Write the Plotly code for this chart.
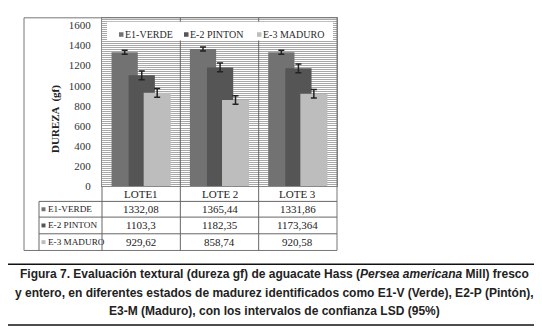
import plotly.graph_objects as go

categories = ["LOTE1", "LOTE 2", "LOTE 3"]
series_names = ["E1-VERDE", "E-2 PINTON", "E-3 MADURO"]
e1_verde = [1332.08, 1365.44, 1331.86]
e2_pinton = [1103.3, 1182.35, 1173.364]
e3_maduro = [929.62, 858.74, 920.58]
e1_err = [20, 20, 20]
e2_err = [43, 43, 43]
e3_err = [43, 43, 43]
y_ticks = [0, 200, 400, 600, 800, 1000, 1200, 1400, 1600]

W, H = 542, 328
colors = ["#727272", "#555555", "#bdbdbd"]
offsets = [-0.378, -0.16, 0.032]
widths = [0.335, 0.335, 0.345]

def px(x):
    return x / W

def py(y):
    return 1 - y / H

fig = go.Figure()
vals = [e1_verde, e2_pinton, e3_maduro]
errs = [e1_err, e2_err, e3_err]
for i in range(3):
    fig.add_trace(go.Bar(
        x=list(range(3)), y=vals[i], name=series_names[i],
        marker=dict(color=colors[i], line=dict(width=0)),
        offset=offsets[i], width=widths[i],
        error_y=dict(type="data", array=errs[i], color="#222", thickness=1.5, width=3),
        showlegend=False,
    ))

serif = "Liberation Serif"
plot_left, plot_right, plot_top, plot_bottom = 94, 329, 10, 181.7

fig.update_layout(
    width=W, height=H, margin=dict(l=0, r=0, t=0, b=0),
    paper_bgcolor="white", plot_bgcolor="white",
    barmode="overlay", showlegend=False,
    xaxis=dict(domain=[px(plot_left), px(plot_right)], range=[-0.5, 2.5],
               showticklabels=False, showgrid=False, zeroline=False,
               showline=True, linecolor="#888", mirror=True, ticks=""),
    yaxis=dict(domain=[py(plot_bottom), py(plot_top)], range=[0, 1675],
               tickvals=y_ticks, ticktext=[str(v) for v in y_ticks],
               tickfont=dict(family=serif, size=11, color="#333"),
               showgrid=True, gridcolor="#a8a8a8", gridwidth=1,
               minor=dict(dtick=20, showgrid=True, gridcolor="#a8a8a8", gridwidth=1),
               zeroline=False, showline=True, linecolor="#888", mirror=True,
               ticks="", ticklabelstandoff=8),
)

shapes = []
line_c = "#777"
# outer frame
shapes.append(dict(type="rect", xref="paper", yref="paper", x0=px(16), x1=px(329),
                   y0=py(247), y1=py(10), line=dict(color=line_c, width=1)))
# category separators through plot and table
for xs in [0.5, 1.5]:
    shapes.append(dict(type="line", xref="x", yref="paper", x0=xs, x1=xs,
                       y0=py(247), y1=py(plot_top), line=dict(color="#666", width=1)))
# legend box (white) and squares
shapes.append(dict(type="rect", xref="paper", yref="paper", x0=px(99), x1=px(325),
                   y0=py(33), y1=py(14), fillcolor="white", line=dict(width=0), layer="above"))
leg_sq_x = [111, 176, 249]
leg_tx_x = [114.5, 179.5, 252.5]
for i in range(3):
    shapes.append(dict(type="rect", xref="paper", yref="paper", x0=px(leg_sq_x[i]),
                       x1=px(leg_sq_x[i] + 4.5), y0=py(29.3), y1=py(24.7),
                       fillcolor=colors[i], line=dict(width=0), layer="above"))
# table lines
table_rows = [197, 213, 230]
for yy in table_rows:
    shapes.append(dict(type="line", xref="paper", yref="paper", x0=px(31), x1=px(329),
                       y0=py(yy), y1=py(yy), line=dict(color="#666", width=1)))
shapes.append(dict(type="line", xref="paper", yref="paper", x0=px(31), x1=px(31),
                   y0=py(197), y1=py(247), line=dict(color="#666", width=1)))
shapes.append(dict(type="line", xref="paper", yref="paper", x0=px(94), x1=px(94),
                   y0=py(181.7), y1=py(247), line=dict(color="#666", width=1)))
# table row squares
row_centers = [205, 221.5, 238.5]
for r in range(3):
    shapes.append(dict(type="rect", xref="paper", yref="paper", x0=px(33.5), x1=px(37.5),
                       y0=py(row_centers[r] + 2), y1=py(row_centers[r] - 2),
                       fillcolor=colors[r], line=dict(width=0)))
# caption rules
for yy in [261, 323]:
    shapes.append(dict(type="line", xref="paper", yref="paper", x0=0, x1=px(531),
                       y0=py(yy), y1=py(yy), line=dict(color="#111", width=1.5)))
fig.update_layout(shapes=shapes)

ann = []
# legend text
for i in range(3):
    ann.append(dict(x=px(leg_tx_x[i]), y=py(27), xref="paper", yref="paper",
                    text=series_names[i], showarrow=False, xanchor="left", yanchor="middle",
                    font=dict(family=serif, size=10, color="#2a2a2a")))
# header row
for i, c in enumerate(categories):
    ann.append(dict(x=i, xref="x", y=py(189.5), yref="paper", text=c, showarrow=False,
                    font=dict(family=serif, size=11, color="#222"), xanchor="center", yanchor="middle"))
for r in range(3):
    ann.append(dict(x=px(38), xref="paper", y=py(row_centers[r]), yref="paper",
                    text=series_names[r],
                    showarrow=False, font=dict(family=serif, size=9.2, color="#222"),
                    xanchor="left", yanchor="middle"))
    for i in range(3):
        txt = str(vals[r][i]).replace(".", ",")
        ann.append(dict(x=i, xref="x", y=py(row_centers[r]), yref="paper", text=txt,
                        showarrow=False, font=dict(family=serif, size=11, color="#222"),
                        xanchor="center", yanchor="middle"))
# y axis title
ann.append(dict(x=px(48), y=py(113), xref="paper", yref="paper", text="<b>DUREZA  (gf)</b>",
                textangle=-90, showarrow=False, font=dict(family=serif, size=11, color="#222"),
                xanchor="center", yanchor="middle"))
# caption
cap = [
    "<b>Figura 7. Evaluación textural (dureza gf) de aguacate Hass (<i>Persea americana</i> Mill) fresco</b>",
    "<b>y entero, en diferentes estados de madurez identificados como E1-V (Verde), E2-P (Pintón),</b>",
    "<b>E3-M (Maduro), con los intervalos de confianza LSD (95%)</b>",
]
cap_y = [271, 290, 309]
for t, yy in zip(cap, cap_y):
    ann.append(dict(x=px(266), y=py(yy), xref="paper", yref="paper", text=t, showarrow=False,
                    font=dict(family="Liberation Sans", size=12, color="#222"),
                    xanchor="center", yanchor="middle"))
fig.update_layout(annotations=ann)

fig.write_html("out.html")
